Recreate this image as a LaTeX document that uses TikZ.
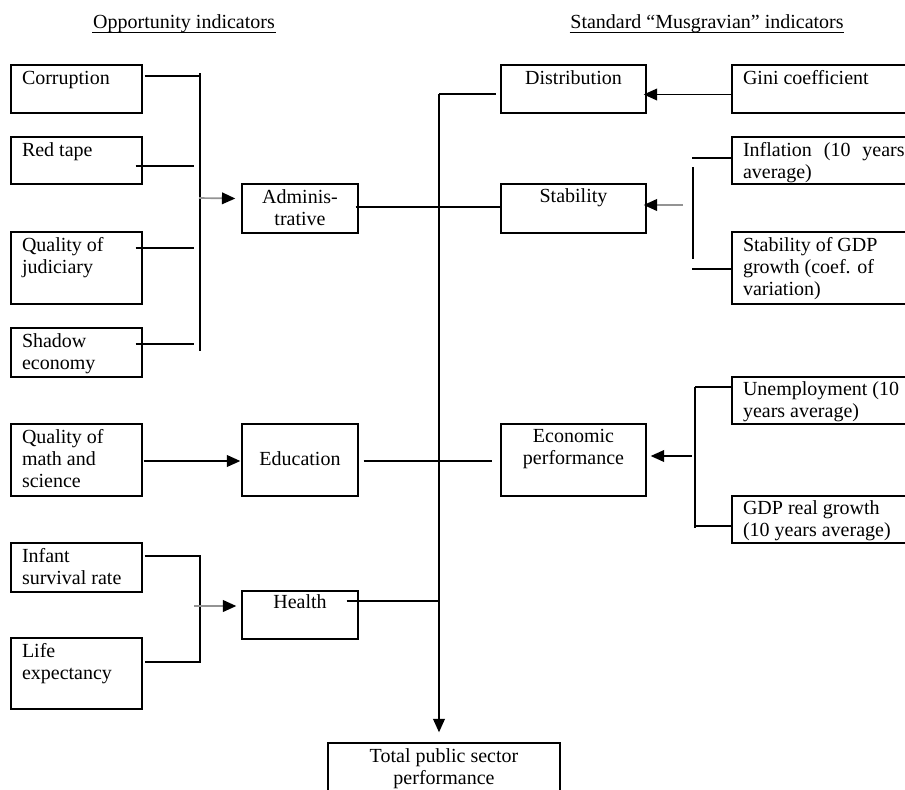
\documentclass[tikz,border=0pt]{standalone}
\usepackage{fontspec}
\setmainfont{Liberation Serif}
\usetikzlibrary{arrows.meta,calc,fit}
\newcommand\tlin[1]{\begin{tabular}[t]{@{}l@{}}#1\end{tabular}}
\newcommand\tcen[1]{\begin{tabular}[t]{@{}c@{}}#1\end{tabular}}
\newcommand\mkbox[5]{%
  \coordinate (#1-a) at (#2,#3);
  \coordinate (#1-b) at (#4,#5);
  \node[boxst, fit=(#1-a)(#1-b)] (#1) {};}
\tikzset{
  boxst/.style={draw, rectangle, inner sep=0pt},
  ltxt/.style={anchor=base west, inner sep=0pt},
  ctxt/.style={anchor=base, inner sep=0pt},
  barrow/.style={-{Triangle[length=8pt,width=7pt]}},
  garrow/.style={draw=gray!85, line width=1pt, -{Triangle[length=8pt,width=7pt,color=black]}},
}
\begin{document}
\begin{tikzpicture}[x=0.6pt, y=-0.6pt, line width=0.85pt,
  font=\fontsize{12}{13.2}\selectfont]
\useasboundingbox (0,0) rectangle (905,789);
\fill[white] (0,0) rectangle (905,789);
\clip (0,0) rectangle (905,789);

% titles
\node[ctxt] (t1) at (184,28) {Opportunity indicators};
\draw[line width=0.6pt] ($(t1.base west)+(0,4)$) -- ($(t1.base east)+(0,4)$);
\node[ctxt] (t2) at (707,28) {Standard “Musgravian” indicators};
\draw[line width=0.6pt] ($(t2.base west)+(0,4)$) -- ($(t2.base east)+(0,4)$);

% left column
\mkbox{cor}{11}{65}{142}{113}
\mkbox{red}{11}{137}{142}{184}
\mkbox{jud}{11}{232}{142}{304}
\mkbox{sha}{11}{328}{142}{377}
\mkbox{mat}{11}{424}{142}{496}
\mkbox{inf}{11}{543}{142}{592}
\mkbox{lif}{11}{638}{142}{709}
\node[ltxt] (cor-t) at ($(cor.north west)+(11,20)$) {\tlin{Corruption}};
\node[ltxt] (red-t) at ($(red.north west)+(11,20)$) {\tlin{Red tape}};
\node[ltxt] (jud-t) at ($(jud.north west)+(11,20)$) {\tlin{Quality of\\judiciary}};
\node[ltxt] (sha-t) at ($(sha.north west)+(11,20)$) {\tlin{Shadow\\economy}};
\node[ltxt] (mat-t) at ($(mat.north west)+(11,20)$) {\tlin{Quality of\\math and\\science}};
\node[ltxt] (inf-t) at ($(inf.north west)+(11,20)$) {\tlin{Infant\\survival rate}};
\node[ltxt] (lif-t) at ($(lif.north west)+(11,20)$) {\tlin{Life\\expectancy}};

% middle column
\mkbox{adm}{242}{184}{358}{233}
\mkbox{edu}{242}{424}{358}{496}
\mkbox{hea}{242}{591}{358}{639}
\node[ctxt] (adm-t) at ($(adm.north)+(0,20)$) {\tcen{Adminis-\\trative}};
\node[ctxt] (edu-t) at ($(edu.north)+(0,42)$) {\tcen{Education}};
\node[ctxt] (hea-t) at ($(hea.north)+(0,18)$) {\tcen{Health}};

% centre column
\mkbox{dis}{501}{65}{646}{113}
\mkbox{sta}{501}{184}{646}{233}
\mkbox{eco}{501}{424}{646}{496}
\node[ctxt] (dis-t) at ($(dis.north)+(0,20)$) {\tcen{Distribution}};
\node[ctxt] (sta-t) at ($(sta.north)+(0,19)$) {\tcen{Stability}};
\node[ctxt] (eco-t) at ($(eco.north)+(0,19)$) {\tcen{Economic\\performance}};

% total
\mkbox{tot}{328}{743}{560}{810}
\node[ctxt] (tot-t) at ($(tot.north)+(0,20)$) {\tcen{Total public sector\\performance}};

% right column
\mkbox{gin}{732}{65}{930}{113}
\mkbox{ifl}{732}{137}{930}{184}
\mkbox{gds}{732}{232}{930}{304}
\mkbox{une}{732}{377}{930}{424}
\mkbox{gdr}{732}{496}{930}{543}
\node[ltxt] (gin-t) at ($(gin.north west)+(11,20)$) {\tlin{Gini coefficient}};
\node[ltxt] (ifl-t) at ($(ifl.north west)+(11,20)$) {\tlin{\makebox[97pt][s]{Inflation (10 years}\\average)}};
\node[ltxt] (gds-t) at ($(gds.north west)+(11,20)$) {\tlin{Stability of GDP\\growth (coef. of\\variation)}};
\node[ltxt] (une-t) at ($(une.north west)+(11,19)$) {\tlin{Unemployment (10\\years average)}};
\node[ltxt] (gdr-t) at ($(gdr.north west)+(11,19)$) {\tlin{GDP real growth\\(10 years average)}};

% ---- left bus (administrative)
\coordinate (lbtop) at (200,73);
\coordinate (lbbot) at (200,351);
\coordinate (lbc) at (200,76);
\coordinate (lbarr) at (199,198);
\draw (lbtop) -- (lbbot);
\draw ($(cor.east)+(2,-13)$) -- (lbc);
\draw ($(red.east)+(-7,5.5)$) -- ($(lbc)+(-6,90)$);
\draw ($(jud.east)+(-7,-20)$) -- ($(lbc)+(-6,172)$);
\draw ($(sha.east)+(-7,-8.5)$) -- ($(lbc)+(-6,268)$);
\draw[garrow] (lbarr) -- ($(adm.west)+(-6,-10)$);

% education
\draw[barrow] ($(mat.east)+(1,1)$) -- ($(edu.west)+(-1,1)$);

% health
\coordinate (hbt) at (200,556);
\coordinate (hbb) at (200,662);
\draw ($(inf.east)+(2,-11.5)$) -- (hbt) -- (hbb) -- ($(lif.east)+(2,-11.5)$);
\draw[garrow] (194,606) -- ($(hea.west)+(-5,-9)$);

% main bus
\coordinate (mtop) at (439,94);
\coordinate (mhea) at (439,601);
\draw[barrow] (mtop) -- ($(tot.north)+(-5,-10)$);
\draw (mtop) -- ($(dis.west)+(-4,5)$);
\draw ($(adm.east)+(-3,-1.5)$) -- ($(sta.west)+(0,-1.5)$);
\draw ($(edu.east)+(5,1)$) -- ($(eco.west)+(-8,1)$);
\draw ($(hea.east)+(-12,-14)$) -- (mhea);

% right side
\draw[barrow] ($(gin.west)+(0,5.5)$) -- ($(dis.east)+(-3,5.5)$);
\coordinate (sbt) at (693,167);
\coordinate (sbb) at (693,259);
\draw (sbt) -- (sbb);
\draw ($(ifl.west)+(-39,-2.5)$) -- ($(ifl.west)+(0,-2.5)$);
\draw ($(gds.west)+(-39,1)$) -- ($(gds.west)+(0,1)$);
\draw[garrow] (683,205) -- ($(sta.east)+(-3,-3.5)$);

\coordinate (ebt) at (695,387);
\coordinate (ebb) at (695,528);
\draw (ebt) -- (ebb);
\draw (ebt) -- ($(une.west)+(0,-13.5)$);
\draw ($(ebb)+(0,-2)$) -- ($(gdr.west)+(0,6.5)$);
\draw[barrow] (692,456) -- ($(eco.east)+(4,-4)$);
\end{tikzpicture}
\end{document}
